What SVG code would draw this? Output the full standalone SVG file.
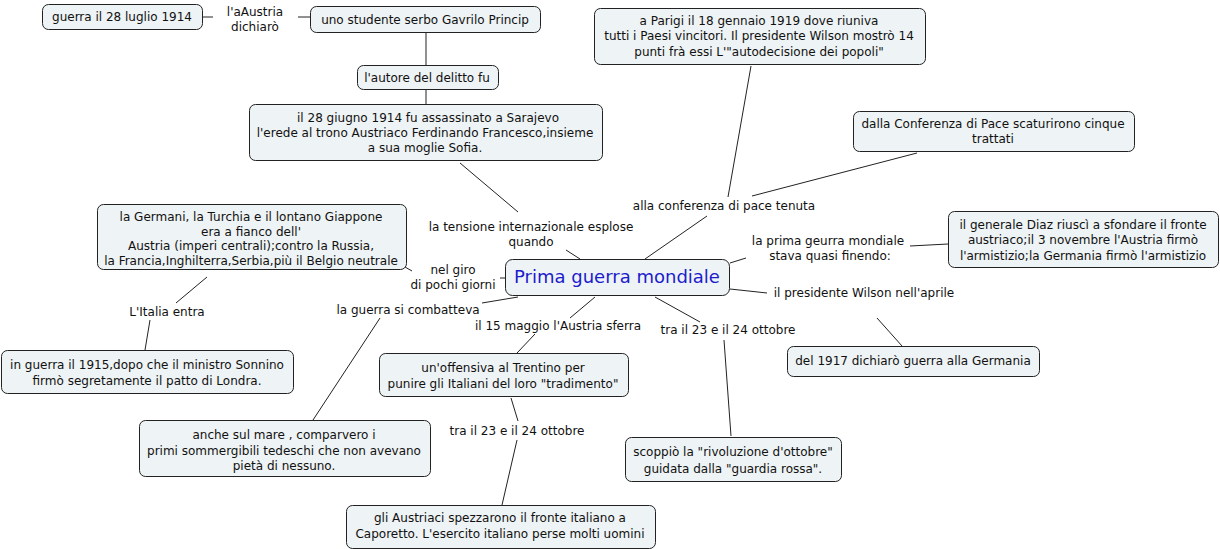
<svg xmlns="http://www.w3.org/2000/svg" width="1220" height="549" viewBox="0 0 1220 549">
<style>
.n rect{fill:#eef3f5;stroke:#222;stroke-width:1;}
text{font-family:"DejaVu Sans",Verdana,sans-serif;font-size:12px;fill:#111;text-anchor:middle;}
.c line{stroke:#222;stroke-width:1;}
.main{font-size:18px;fill:#1c1ccc;}
</style>
<rect width="1220" height="549" fill="#fff"/>
<g class="c">
<line x1="202" y1="17" x2="213" y2="17"/>
<line x1="298" y1="17" x2="310" y2="17"/>
<line x1="426" y1="32" x2="426" y2="65"/>
<line x1="426" y1="89" x2="426" y2="104"/>
<line x1="460" y1="163" x2="518" y2="212"/>
<line x1="566" y1="250" x2="580" y2="259"/>
<line x1="751" y1="66" x2="728" y2="197"/>
<line x1="645" y1="259" x2="707" y2="216"/>
<line x1="752" y1="196" x2="917" y2="153"/>
<line x1="730" y1="263" x2="746" y2="258"/>
<line x1="910" y1="246" x2="948" y2="244"/>
<line x1="730" y1="289" x2="767" y2="293"/>
<line x1="877" y1="318" x2="902" y2="346"/>
<line x1="655" y1="297" x2="700" y2="322"/>
<line x1="724" y1="340" x2="731" y2="436"/>
<line x1="595" y1="297" x2="570" y2="318"/>
<line x1="535" y1="334" x2="517" y2="353"/>
<line x1="511" y1="398" x2="518" y2="421"/>
<line x1="517" y1="440" x2="502" y2="505"/>
<line x1="482" y1="303" x2="518" y2="297"/>
<line x1="380" y1="318" x2="313" y2="420"/>
<line x1="500" y1="278" x2="505" y2="278"/>
<line x1="405" y1="267" x2="412" y2="271"/>
<line x1="207" y1="277" x2="176" y2="303"/>
<line x1="150" y1="320" x2="145" y2="350"/>
</g>
<g id="lbl1"><text x="255" y="16">l'aAustria</text><text x="255" y="31">dichiarò</text></g>
<g id="lbl2"><text x="531" y="231">la tensione internazionale esplose</text><text x="531" y="246">quando</text></g>
<g id="lbl3"><text x="724" y="210">alla conferenza di pace tenuta</text></g>
<g id="lbl4"><text x="828" y="245">la prima geurra mondiale</text><text x="830" y="260">stava quasi finendo:</text></g>
<g id="lbl5"><text x="864" y="297">il presidente Wilson nell'aprile</text></g>
<g id="lbl6"><text x="728" y="334">tra il 23 e il 24 ottobre</text></g>
<g id="lbl7"><text x="558" y="330">il 15 maggio l'Austria sferra</text></g>
<g id="lbl8"><text x="517" y="435">tra il 23 e il 24 ottobre</text></g>
<g id="lbl9"><text x="408" y="314">la guerra si combatteva</text></g>
<g id="lbl10"><text x="453" y="274">nel giro</text><text x="453" y="289">di pochi giorni</text></g>
<g id="lbl11"><text x="167" y="316">L'Italia entra</text></g>

<g id="n1" class="n"><rect x="42.5" y="4.5" width="160" height="25" rx="6"/><text x="122" y="21">guerra il 28 luglio 1914</text></g>
<g id="n2" class="n"><rect x="310.5" y="6.5" width="230" height="26" rx="6"/><text x="425" y="24">uno studente serbo Gavrilo Princip</text></g>
<g id="n3" class="n"><rect x="357.5" y="65.5" width="141" height="24" rx="6"/><text x="427" y="82">l'autore del delitto fu</text></g>
<g id="n4" class="n"><rect x="249.5" y="104.5" width="353" height="56" rx="6"/><text x="428" y="122">il 28 giugno 1914 fu assassinato a Sarajevo</text><text x="425" y="137">l'erede al trono Austriaco Ferdinando Francesco,insieme</text><text x="425" y="152">a sua moglie Sofia.</text></g>
<g id="main" class="n"><rect x="505.5" y="259.5" width="224" height="36" rx="7"/><text class="main" x="617" y="283">Prima guerra mondiale</text></g>
<g id="n5" class="n"><rect x="594.5" y="8.5" width="331" height="56" rx="6"/><text x="759" y="25">a Parigi il 18 gennaio 1919 dove riuniva</text><text x="759" y="40">tutti i Paesi vincitori. Il presidente Wilson mostrò 14</text><text x="759" y="56">punti frà essi L'"autodecisione dei popoli"</text></g>
<g id="n6" class="n"><rect x="853.5" y="111.5" width="281" height="40" rx="6"/><text x="993" y="128">dalla Conferenza di Pace scaturirono cinque</text><text x="993" y="143">trattati</text></g>
<g id="n7" class="n"><rect x="948.5" y="211.5" width="270" height="56" rx="6"/><text x="1083" y="229">il generale Diaz riuscì a sfondare il fronte</text><text x="1083" y="244">austriaco;il 3 novembre l'Austria firmò</text><text x="1083" y="260">l'armistizio;la Germania firmò l'armistizio</text></g>
<g id="n8" class="n"><rect x="787.5" y="346.5" width="252" height="30" rx="6"/><text x="913" y="365">del 1917 dichiarò guerra alla Germania</text></g>
<g id="n9" class="n"><rect x="625.5" y="437.5" width="216" height="44" rx="6"/><text x="733" y="456">scoppiò la "rivoluzione d'ottobre"</text><text x="733" y="473">guidata dalla "guardia rossa".</text></g>
<g id="n10" class="n"><rect x="379.5" y="353.5" width="249" height="43" rx="6"/><text x="503" y="372">un'offensiva al Trentino per</text><text x="503" y="388">punire gli Italiani del loro "tradimento"</text></g>
<g id="n11" class="n"><rect x="346.5" y="505.5" width="309" height="43" rx="6"/><text x="500" y="522">gli Austriaci spezzarono il fronte italiano a</text><text x="500" y="538">Caporetto. L'esercito italiano perse molti uomini</text></g>
<g id="n12" class="n"><rect x="139.5" y="420.5" width="291" height="56" rx="6"/><text x="284" y="439">anche sul mare , comparvero i</text><text x="284" y="455">primi sommergibili tedeschi che non avevano</text><text x="284" y="470">pietà di nessuno.</text></g>
<g id="n13" class="n"><rect x="97.5" y="204.5" width="309" height="65" rx="6"/><text x="251" y="221">la Germani, la Turchia e il lontano Giappone</text><text x="251" y="236">era a fianco dell'</text><text x="251" y="250">Austria (imperi centrali);contro la Russia,</text><text x="251" y="265">la Francia,Inghilterra,Serbia,più il Belgio neutrale</text></g>
<g id="n14" class="n"><rect x="1.5" y="350.5" width="292" height="43" rx="6"/><text x="147" y="369">in guerra il 1915,dopo che il ministro Sonnino</text><text x="147" y="385">firmò segretamente il patto di Londra.</text></g>
</svg>
